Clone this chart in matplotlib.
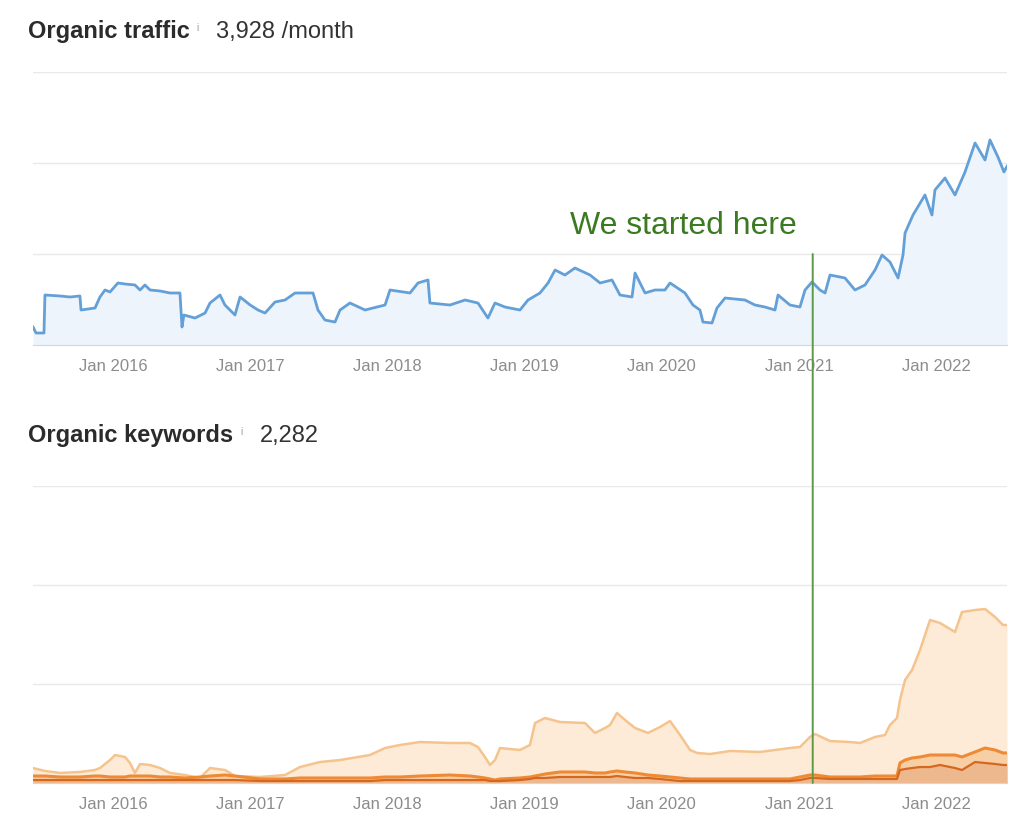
import matplotlib
matplotlib.use("Agg")
import matplotlib.pyplot as plt
from matplotlib.patches import ConnectionPatch

plt.rcParams['font.family'] = ['Liberation Sans', 'DejaVu Sans']

# ---------------- data ----------------
traffic_x = [2015.417, 2015.439, 2015.497, 2015.504, 2015.614, 2015.687, 2015.759, 2015.767,
             2015.869, 2015.905, 2015.942, 2015.978, 2016.036, 2016.087, 2016.160, 2016.197,
             2016.233, 2016.270, 2016.343, 2016.415, 2016.488, 2016.503, 2016.517, 2016.598,
             2016.671, 2016.707, 2016.780, 2016.816, 2016.889, 2016.926, 2017.000, 2017.057,
             2017.108, 2017.181, 2017.254, 2017.327, 2017.458, 2017.494, 2017.545, 2017.618,
             2017.655, 2017.727, 2017.837, 2017.895, 2017.983, 2018.019, 2018.165, 2018.223,
             2018.296, 2018.310, 2018.456, 2018.566, 2018.660, 2018.733, 2018.784, 2018.857,
             2018.966, 2019.025, 2019.112, 2019.171, 2019.222, 2019.294, 2019.367, 2019.477,
             2019.550, 2019.637, 2019.695, 2019.783, 2019.805, 2019.878, 2019.950, 2020.023,
             2020.060, 2020.169, 2020.227, 2020.278, 2020.300, 2020.366, 2020.402, 2020.461,
             2020.606, 2020.679, 2020.752, 2020.825, 2020.847, 2020.934, 2021.007, 2021.044,
             2021.095, 2021.153, 2021.190, 2021.226, 2021.335, 2021.408, 2021.481, 2021.554,
             2021.605, 2021.663, 2021.722, 2021.758, 2021.773, 2021.831, 2021.918, 2021.969,
             2021.991, 2022.064, 2022.137, 2022.210, 2022.283, 2022.356, 2022.392, 2022.450,
             2022.494, 2022.516]
traffic_y = [396, 264, 264, 1099, 1077, 1055, 1077, 769,
             813, 1055, 1209, 1165, 1363, 1341, 1319, 1209,
             1319, 1209, 1187, 1143, 1143, 396, 659, 593,
             703, 923, 1099, 879, 659, 1055, 879, 769,
             703, 945, 989, 1143, 1143, 769, 549, 505,
             769, 923, 769, 813, 879, 1209, 1143, 1363,
             1429, 923, 879, 989, 923, 593, 923, 835,
             769, 989, 1143, 1363, 1648, 1538, 1692, 1538,
             1363, 1429, 1099, 1055, 1582, 1143, 1209, 1209,
             1363, 1143, 879, 769, 505, 484, 813, 1033,
             989, 879, 835, 769, 1099, 879, 835, 1209,
             1385, 1209, 1143, 1538, 1473, 1209, 1319, 1648,
             1978, 1824, 1473, 1978, 2462, 2857, 3297, 2857,
             3407, 3671, 3297, 3802, 4440, 4066, 4506, 4132,
             3802, 3928]

kw_x = [2015.417, 2015.504, 2015.614, 2015.759, 2015.869, 2015.905, 2015.978, 2016.015,
        2016.087, 2016.124, 2016.160, 2016.197, 2016.270, 2016.343, 2016.415, 2016.525,
        2016.634, 2016.707, 2016.816, 2016.889, 2017.071, 2017.254, 2017.363, 2017.509,
        2017.655, 2017.873, 2017.983, 2018.092, 2018.238, 2018.456, 2018.602, 2018.660,
        2018.711, 2018.748, 2018.784, 2018.821, 2018.966, 2019.039, 2019.076, 2019.149,
        2019.258, 2019.440, 2019.513, 2019.586, 2019.623, 2019.673, 2019.732, 2019.805,
        2019.899, 2019.987, 2020.060, 2020.133, 2020.206, 2020.257, 2020.351, 2020.497,
        2020.716, 2020.934, 2021.007, 2021.080, 2021.117, 2021.226, 2021.372, 2021.445,
        2021.554, 2021.627, 2021.663, 2021.714, 2021.736, 2021.773, 2021.824, 2021.882,
        2021.955, 2022.028, 2022.137, 2022.188, 2022.283, 2022.356, 2022.429, 2022.487,
        2022.516]
kw_top = [227, 182, 152, 167, 197, 227, 348, 424,
          394, 303, 152, 288, 273, 227, 152, 121,
          76, 227, 197, 106, 91, 121, 242, 318,
          348, 424, 530, 576, 621, 606, 606, 545,
          394, 273, 348, 530, 500, 576, 909, 985,
          924, 909, 758, 833, 879, 1061, 955, 833,
          758, 848, 939, 727, 500, 455, 439, 485,
          470, 530, 545, 697, 742, 636, 621, 606,
          697, 727, 879, 985, 1258, 1561, 1712, 2015,
          2470, 2424, 2288, 2591, 2621, 2636, 2515, 2394,
          2394]
kw_mid = [106, 106, 91, 91, 106, 106, 91, 91,
          91, 106, 106, 106, 106, 91, 91, 76,
          91, 106, 121, 106, 61, 61, 76, 76,
          76, 76, 91, 91, 106, 121, 106, 91,
          76, 61, 45, 61, 76, 91, 106, 136,
          167, 167, 152, 152, 167, 182, 167, 152,
          121, 106, 91, 76, 61, 61, 61, 61,
          61, 61, 91, 121, 121, 91, 91, 91,
          106, 106, 106, 106, 303, 348, 379, 394,
          424, 424, 424, 394, 470, 530, 500, 455,
          455]
kw_low = [45, 45, 45, 45, 45, 45, 45, 45,
          45, 45, 45, 45, 45, 45, 45, 45,
          45, 45, 45, 45, 30, 30, 30, 30,
          30, 30, 45, 45, 45, 45, 45, 45,
          45, 30, 30, 30, 45, 61, 76, 76,
          91, 91, 91, 91, 91, 106, 91, 76,
          76, 61, 45, 30, 30, 30, 30, 30,
          30, 30, 45, 76, 76, 61, 61, 61,
          61, 61, 61, 61, 197, 212, 227, 242,
          242, 273, 227, 197, 318, 303, 288, 273,
          273]

year_ticks = [2016, 2017, 2018, 2019, 2020, 2021, 2022]
year_labels = ["Jan 2016", "Jan 2017", "Jan 2018", "Jan 2019", "Jan 2020", "Jan 2021", "Jan 2022"]
traffic_grid = [2000, 4000, 6000]
kw_grid = [1500, 3000, 4500]
start_x = 2021.1
x_range = (2015.417, 2022.516)

# ---------------- figure ----------------
W, H = 1014, 826
fig = plt.figure(figsize=(W / 100, H / 100), dpi=100)

def axrect(x0, y0, x1, y1):
    return [x0 / W, 1 - y1 / H, (x1 - x0) / W, (y1 - y0) / H]

ax1 = fig.add_axes(axrect(33, 72, 1007, 345))
ax2 = fig.add_axes(axrect(33, 486, 1007, 783))

tick_color = '#8c8c8c'
for ax, grid in ((ax1, traffic_grid), (ax2, kw_grid)):
    ax.set_xlim(*x_range)
    ax.set_ylim(0, grid[-1])
    ax.set_yticks(grid)
    ax.set_yticklabels([])
    ax.tick_params(axis='y', length=0)
    ax.grid(axis='y', color='#e9e9e9', lw=1.0)
    ax.set_axisbelow(True)
    for s in ('top', 'left', 'right'):
        ax.spines[s].set_visible(False)
    ax.spines['bottom'].set_color('#d6d6d6')
    ax.set_xticks(year_ticks)
    ax.set_xticklabels(year_labels)
    ax.tick_params(axis='x', length=0, pad=10, labelsize=12, labelcolor=tick_color)

# traffic
ax1.fill_between(traffic_x, traffic_y, 0, color='#eef4fc', lw=0, zorder=1)
ax1.plot(traffic_x, traffic_y, color='#64a0d8', lw=2.0, zorder=3)

# keywords
ax2.fill_between(kw_x, kw_top, 0, color='#fdebd8', lw=0, zorder=1)
ax2.plot(kw_x, kw_top, color='#f5c48e', lw=1.8, zorder=3)
ax2.fill_between(kw_x, kw_mid, 0, color='#f8cfa5', lw=0, zorder=2)
ax2.plot(kw_x, kw_mid, color='#ee8a35', lw=2.2, zorder=4)
ax2.fill_between(kw_x, kw_low, 0, color='#eeb88e', lw=0, zorder=2)
ax2.plot(kw_x, kw_low, color='#d4681f', lw=1.6, zorder=5)

# start marker line across both panels
con = ConnectionPatch(xyA=(start_x, traffic_grid[0]), coordsA=ax1.transData,
                      xyB=(start_x, 0), coordsB=ax2.transData,
                      color='#5d9a45', lw=1.4, zorder=10)
fig.add_artist(con)
ax1.text(2020.16, 2620, "We started here", color='#3b7a21', fontsize=23,
         ha='center', va='center', zorder=6)

# titles
def px(x, y):
    return x / W, 1 - y / H

fig.text(*px(28, 38), "Organic traffic", fontsize=17, fontweight='bold',
         color='#2b2b2b', va='baseline', ha='left')
fig.text(*px(196, 31), "i", fontsize=7, color='#9a9a9a', va='baseline', ha='left')
fig.text(*px(216, 38), "3,928 /month", fontsize=17, color='#333333', va='baseline', ha='left')

fig.text(*px(28, 442), "Organic keywords", fontsize=17, fontweight='bold',
         color='#2b2b2b', va='baseline', ha='left')
fig.text(*px(240, 435), "i", fontsize=7, color='#9a9a9a', va='baseline', ha='left')
fig.text(*px(260, 442), "2,282", fontsize=17, color='#333333', va='baseline', ha='left')

fig.savefig("out.png", dpi=100, facecolor='white')
